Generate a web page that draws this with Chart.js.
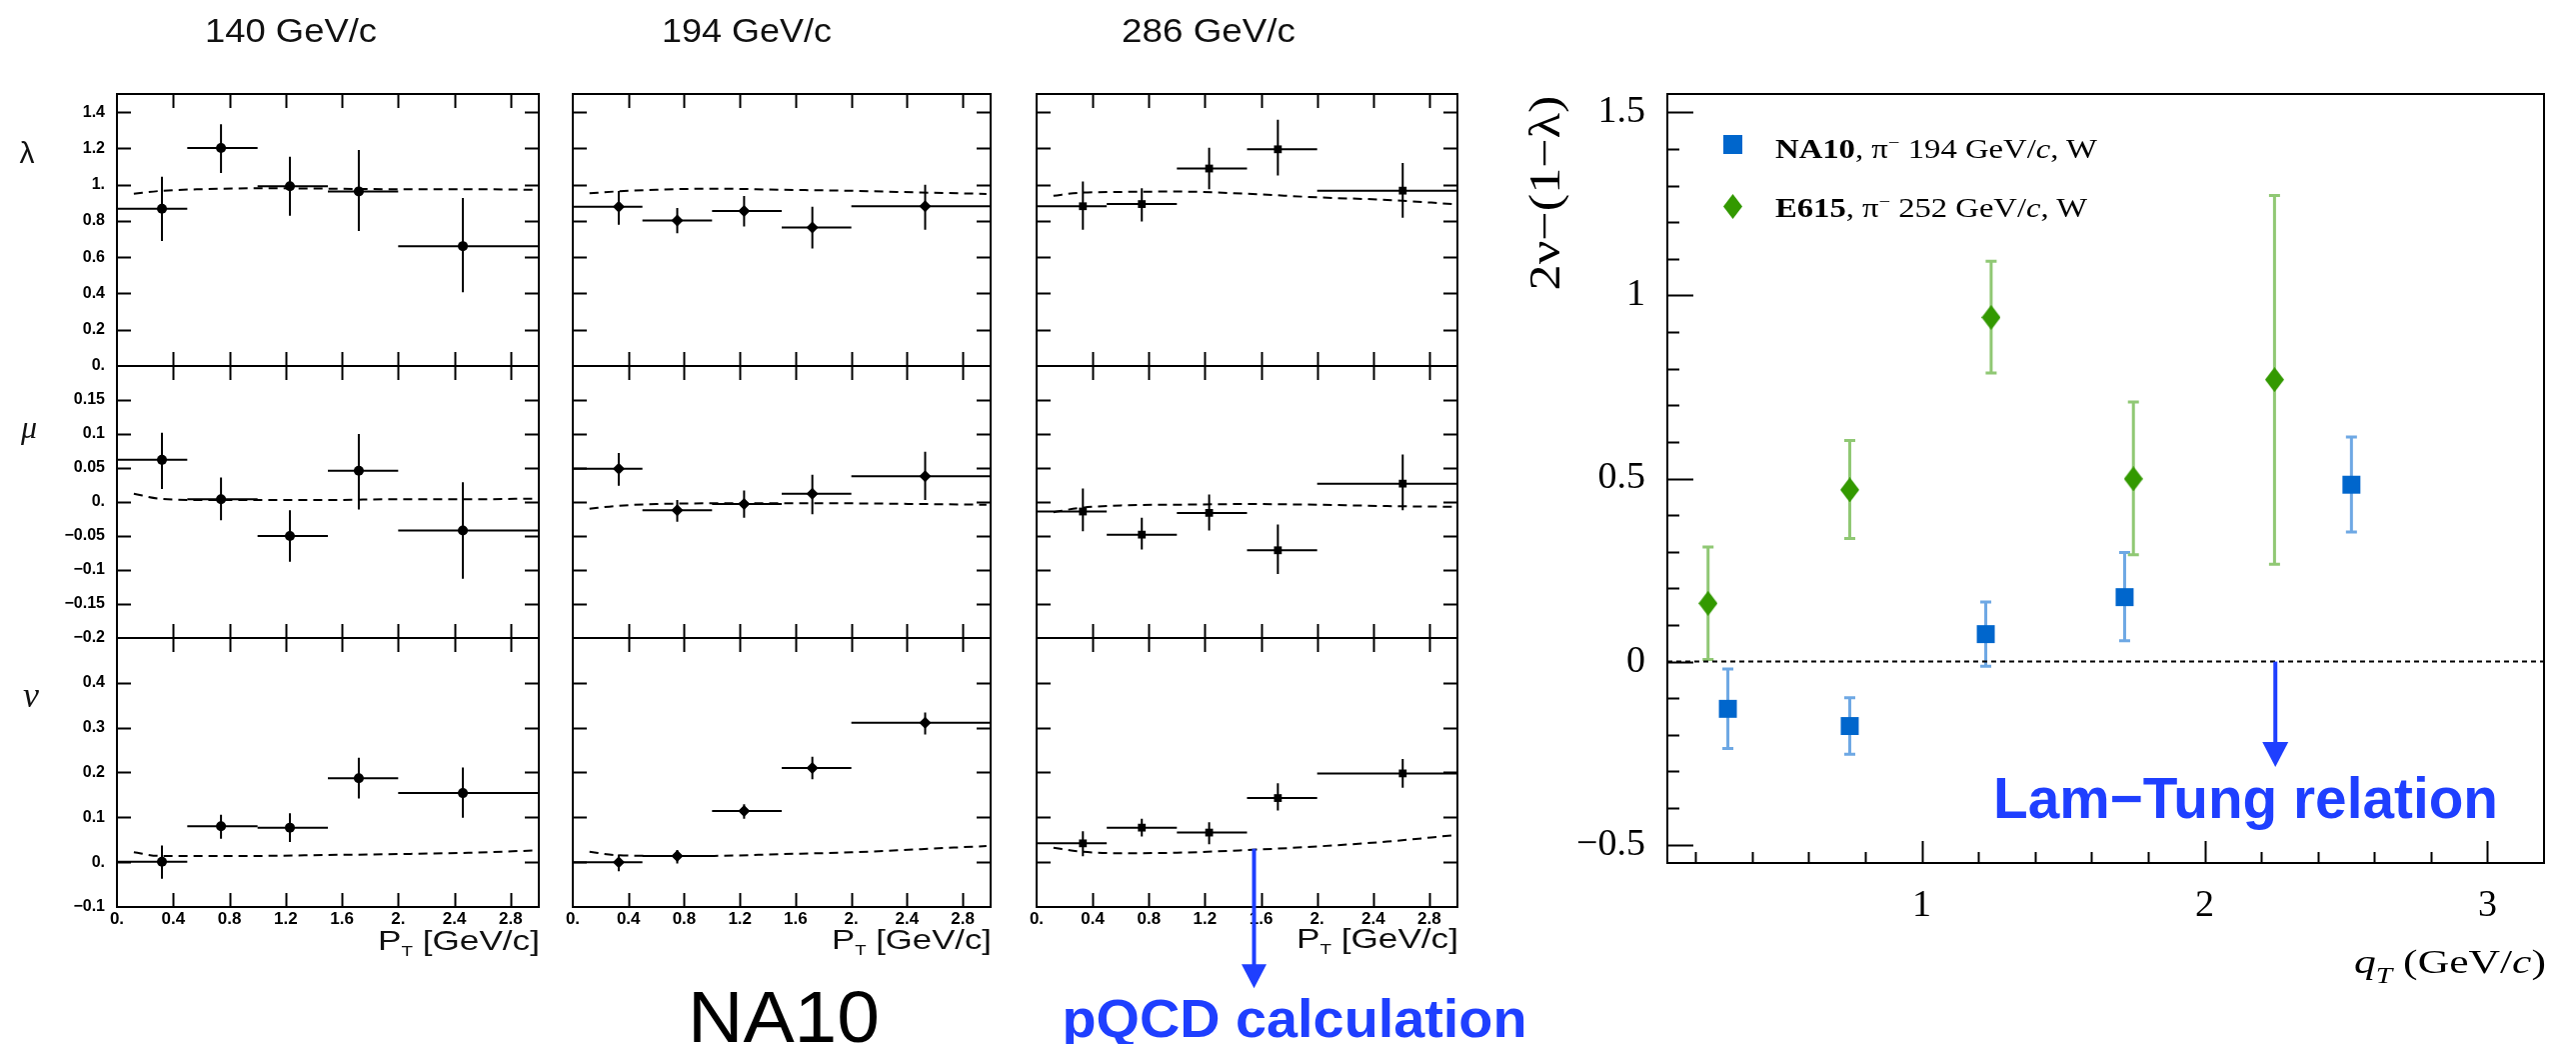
<!DOCTYPE html>
<html><head><meta charset="utf-8">
<script src="https://cdn.jsdelivr.net/npm/chart.js@4.4.1/dist/chart.umd.min.js"></script>
<style>
html,body{margin:0;padding:0;background:#fff;}
#wrap{position:relative;width:2577px;height:1044px;overflow:hidden;background:#fff;}
#wrap canvas{position:absolute;}
#ovl{position:absolute;left:0;top:0;z-index:10;pointer-events:none;white-space:pre;}
</style></head><body>
<div id="wrap">
<svg id="ovl" xmlns="http://www.w3.org/2000/svg" width="2577" height="1044">
 <g font-family="'Liberation Sans', Arial, sans-serif" fill="#111">
  <text x="291" y="42" font-size="33" text-anchor="middle" textLength="172" lengthAdjust="spacingAndGlyphs">140 GeV/c</text>
  <text x="747" y="42" font-size="33" text-anchor="middle" textLength="170" lengthAdjust="spacingAndGlyphs">194 GeV/c</text>
  <text x="1209" y="42" font-size="33" text-anchor="middle" textLength="174" lengthAdjust="spacingAndGlyphs">286 GeV/c</text>
  <text x="27" y="163" font-size="30" text-anchor="middle">λ</text>
  <text x="540" y="950" font-size="28" text-anchor="end" textLength="162" lengthAdjust="spacingAndGlyphs">P<tspan font-size="15" dy="6">T</tspan><tspan dy="-6"> [GeV/c]</tspan></text>
  <text x="992" y="949" font-size="28" text-anchor="end" textLength="160" lengthAdjust="spacingAndGlyphs">P<tspan font-size="15" dy="6">T</tspan><tspan dy="-6"> [GeV/c]</tspan></text>
  <text x="1459" y="948" font-size="28" text-anchor="end" textLength="162" lengthAdjust="spacingAndGlyphs">P<tspan font-size="15" dy="6">T</tspan><tspan dy="-6"> [GeV/c]</tspan></text>
  <text x="784" y="1042" font-size="73" fill="#000" text-anchor="middle" textLength="192" lengthAdjust="spacingAndGlyphs">NA10</text>
  <text x="1295" y="1037" font-size="54" font-weight="bold" fill="#1f3fff" text-anchor="middle" textLength="465" lengthAdjust="spacingAndGlyphs">pQCD calculation</text>
  <text x="1994" y="818" font-size="57" font-weight="bold" fill="#1f3fff" textLength="505" lengthAdjust="spacingAndGlyphs">Lam−Tung relation</text>
 </g>
 <g font-family="'Liberation Serif', 'Times New Roman', serif" fill="#111" font-style="italic">
  <text x="29" y="438" font-size="32" text-anchor="middle">μ</text>
  <text x="31" y="707" font-size="36" text-anchor="middle">ν</text>
 </g>
 <g font-family="'Liberation Serif', 'Times New Roman', serif" fill="#000">
  <rect x="1724" y="135" width="19" height="19" fill="#0066cc"/>
  <polygon points="1733.5,194 1743,206.5 1733.5,219 1724,206.5" fill="#339900"/>
  <text x="1776" y="158" font-size="27" textLength="322" lengthAdjust="spacingAndGlyphs"><tspan font-weight="bold">NA10</tspan>, π<tspan font-size="17" dy="-10">−</tspan><tspan dy="10"> 194 GeV/</tspan><tspan font-style="italic">c</tspan>, W</text>
  <text x="1776" y="217" font-size="27" textLength="312" lengthAdjust="spacingAndGlyphs"><tspan font-weight="bold">E615</tspan>, π<tspan font-size="17" dy="-10">−</tspan><tspan dy="10"> 252 GeV/</tspan><tspan font-style="italic">c</tspan>, W</text>
  <text transform="translate(1545,193) rotate(-90)" font-size="44" text-anchor="middle" dominant-baseline="central" textLength="195" lengthAdjust="spacingAndGlyphs">2ν−(1−λ)</text>
  <text x="2547" y="973" font-size="34" text-anchor="end" textLength="192" lengthAdjust="spacingAndGlyphs"><tspan font-style="italic">q</tspan><tspan font-style="italic" font-size="23" dy="10">T</tspan><tspan dy="-10"> (GeV/</tspan><tspan font-style="italic">c</tspan>)</text>
 </g>
</svg>
</div>
<script>
// ================= DATA =================
// NA10 transverse-momentum bins (GeV/c)
const binLo = [0.0, 0.5, 1.0, 1.5, 2.0];
const binHi = [0.5, 1.0, 1.5, 2.0, 3.0];
// mean P_T of each bin, per beam momentum
const ptMean140 = [0.32, 0.74, 1.23, 1.72, 2.46];
const ptMean194 = [0.33, 0.75, 1.23, 1.72, 2.53];
const ptMean286 = [0.33, 0.75, 1.23, 1.72, 2.61];

// lambda
const lam140 = [0.867, 1.202, 0.991, 0.963, 0.661];
const lam140Lo = [0.689, 1.065, 0.828, 0.744, 0.407];
const lam140Hi = [1.043, 1.333, 1.154, 1.191, 0.926];
const lam194 = [0.878, 0.803, 0.855, 0.764, 0.881];
const lam194Lo = [0.779, 0.732, 0.769, 0.648, 0.751];
const lam194Hi = [0.965, 0.872, 0.937, 0.878, 0.999];
const lam286 = [0.881, 0.893, 1.089, 1.195, 0.967];
const lam286Lo = [0.751, 0.797, 0.975, 1.051, 0.818];
const lam286Hi = [1.018, 0.980, 1.204, 1.358, 1.120];
// mu
const mu140 = [0.062, 0.004, -0.050, 0.046, -0.042];
const mu140Lo = [0.019, -0.027, -0.088, -0.011, -0.113];
const mu140Hi = [0.102, 0.036, -0.012, 0.100, 0.029];
const mu194 = [0.049, -0.012, -0.003, 0.012, 0.038];
const mu194Lo = [0.024, -0.029, -0.023, -0.018, 0.003];
const mu194Hi = [0.072, 0.003, 0.017, 0.040, 0.074];
const mu286 = [-0.014, -0.048, -0.016, -0.071, 0.027];
const mu286Lo = [-0.043, -0.070, -0.042, -0.106, -0.012];
const mu286Hi = [0.020, -0.023, 0.011, -0.033, 0.070];
// nu
const nu140 = [0.001, 0.080, 0.077, 0.187, 0.154];
const nu140Lo = [-0.037, 0.052, 0.045, 0.142, 0.099];
const nu140Hi = [0.037, 0.106, 0.109, 0.233, 0.211];
const nu194 = [0.000, 0.014, 0.114, 0.210, 0.311];
const nu194Lo = [-0.020, -0.003, 0.097, 0.185, 0.285];
const nu194Hi = [0.017, 0.027, 0.129, 0.235, 0.334];
const nu286 = [0.042, 0.077, 0.066, 0.143, 0.198];
const nu286Lo = [0.013, 0.057, 0.040, 0.115, 0.166];
const nu286Hi = [0.069, 0.097, 0.089, 0.176, 0.230];

// pQCD calculation (dashed curves)
const thPt = [0.12, 0.3, 0.6, 1.0, 1.5, 2.0, 2.5, 2.97];
const lamTh140 = [0.950, 0.965, 0.975, 0.980, 0.978, 0.975, 0.975, 0.972];
const lamTh194 = [0.952, 0.962, 0.972, 0.978, 0.972, 0.966, 0.957, 0.949];
const lamTh286 = [0.939, 0.955, 0.960, 0.962, 0.950, 0.930, 0.916, 0.893];
const muTh140 = [0.012, 0.005, 0.003, 0.003, 0.003, 0.004, 0.004, 0.005];
const muTh194 = [-0.010, -0.006, -0.003, -0.002, -0.002, -0.002, -0.003, -0.004];
const muTh286 = [-0.015, -0.009, -0.005, -0.004, -0.003, -0.004, -0.006, -0.007];
const nuTh140 = [0.022, 0.014, 0.014, 0.014, 0.016, 0.018, 0.021, 0.026];
const nuTh194 = [0.023, 0.016, 0.014, 0.014, 0.018, 0.022, 0.029, 0.036];
const nuTh286 = [0.032, 0.024, 0.020, 0.021, 0.027, 0.035, 0.046, 0.060];

// tick values / labels of the NA10 panels
const ptTicks = [0, 0.4, 0.8, 1.2, 1.6, 2.0, 2.4, 2.8];
const ptTickText = ['0.', '0.4', '0.8', '1.2', '1.6', '2.', '2.4', '2.8'];
const ptInner = [0.4, 0.8, 1.2, 1.6, 2.0, 2.4, 2.8];
const lamTicks = [0, 0.2, 0.4, 0.6, 0.8, 1.0, 1.2, 1.4];
const lamTickText = ['0.', '0.2', '0.4', '0.6', '0.8', '1.', '1.2', '1.4'];
const lamInner = [0.2, 0.4, 0.6, 0.8, 1.0, 1.2, 1.4];
const muTicks = [-0.2, -0.15, -0.1, -0.05, 0, 0.05, 0.1, 0.15];
const muTickText = ['−0.2', '−0.15', '−0.1', '−0.05', '0.', '0.05', '0.1', '0.15'];
const muInner = [-0.15, -0.1, -0.05, 0, 0.05, 0.1, 0.15];
const nuTicks = [-0.1, 0, 0.1, 0.2, 0.3, 0.4];
const nuTickText = ['−0.1', '0.', '0.1', '0.2', '0.3', '0.4'];
const nuInner = [0, 0.1, 0.2, 0.3, 0.4];

// Right chart: 2nu-(1-lambda) vs qT
const na10Qt = [0.314, 0.745, 1.226, 1.717, 2.519];
const na10Val = [-0.129, -0.176, 0.075, 0.176, 0.483];
const na10Lo = [-0.237, -0.253, -0.013, 0.057, 0.354];
const na10Hi = [-0.020, -0.099, 0.163, 0.298, 0.613];
const e615Qt = [0.244, 0.745, 1.245, 1.748, 2.247];
const e615Val = [0.159, 0.469, 0.940, 0.499, 0.770];
const e615Lo = [0.006, 0.336, 0.788, 0.292, 0.266];
const e615Hi = [0.313, 0.604, 1.093, 0.709, 1.273];
const lamTungQt = [0.1, 3.2];
const lamTungVal = [0, 0];
const qtMajor = [1, 2, 3];
const qtTickText = ['1', '2', '3'];
const qtMinor = [0.2, 0.4, 0.6, 0.8, 1.2, 1.4, 1.6, 1.8, 2.2, 2.4, 2.6, 2.8];
const ltMajor = [-0.5, 0, 0.5, 1, 1.5];
const ltTickText = ['−0.5', '0', '0.5', '1', '1.5'];
const ltMinor = [-0.4, -0.3, -0.2, -0.1, 0.1, 0.2, 0.3, 0.4, 0.6, 0.7, 0.8, 0.9, 1.1, 1.2, 1.3, 1.4];
// annotation arrows (value coordinates)
const lamTungArrow = {x: 2.25, yFrom: 0, yTo: -0.288};
const pqcdArrow = {x: 1.55, yFrom: 0.03, yTo: -0.281};

// ================= LAYOUT (pixels) =================
const COL_X0 = [117, 573, 1037], COL_X1 = [539, 991, 1458];
const ROW_Y0 = [94, 366, 638], ROW_Y1 = [366, 638, 907];
const ROW_MIN = [0, -0.2, -0.1], ROW_MAX = [1.5, 0.2, 0.5];
const SANS = "'Liberation Sans', Arial, sans-serif";
const SERIF = "'Liberation Serif', 'Times New Roman', serif";
const BLUE_TXT = '#1f3fff';

Chart.defaults.font.family = SANS;

// ================= PLUGINS =================
const framePlugin = {
  id: 'hepFrame',
  afterDraw(chart, args, o) {
    const {ctx, chartArea: a, scales: {x, y}} = chart;
    ctx.save();
    ctx.strokeStyle = '#000';
    ctx.lineWidth = o.lw || 2;
    ctx.strokeRect(a.left, a.top, a.right - a.left, a.bottom - a.top);
    ctx.beginPath();
    const tick = (list, len, both) => {
      (list.x || []).forEach(v => {
        const p = Math.round(x.getPixelForValue(v)) + 0.5;
        ctx.moveTo(p, a.bottom); ctx.lineTo(p, a.bottom - len);
        if (both) { ctx.moveTo(p, a.top); ctx.lineTo(p, a.top + len); }
      });
      (list.y || []).forEach(v => {
        const p = Math.round(y.getPixelForValue(v)) + 0.5;
        ctx.moveTo(a.left, p); ctx.lineTo(a.left + len, p);
        if (both) { ctx.moveTo(a.right, p); ctx.lineTo(a.right - len, p); }
      });
    };
    (o.sets || []).forEach(s => tick(s, s.len, s.both));
    ctx.stroke();
    ctx.restore();
  }
};

const errPlugin = {
  id: 'errBars',
  beforeDatasetsDraw(chart) {
    const {ctx, scales: {x, y}} = chart;
    ctx.save();
    chart.data.datasets.forEach(ds => {
      if (!ds.errLo) return;
      ctx.strokeStyle = ds.errColor;
      ctx.lineWidth = ds.errWidth;
      ds.data.forEach((p, i) => {
        const px = x.getPixelForValue(p.x), py = y.getPixelForValue(p.y);
        const yl = y.getPixelForValue(ds.errLo[i]), yh = y.getPixelForValue(ds.errHi[i]);
        ctx.beginPath();
        ctx.moveTo(px, yl); ctx.lineTo(px, yh);
        if (ds.binLo) {
          ctx.moveTo(x.getPixelForValue(ds.binLo[i]), py);
          ctx.lineTo(x.getPixelForValue(ds.binHi[i]), py);
        }
        if (ds.capW) {
          ctx.moveTo(px - ds.capW / 2, yl); ctx.lineTo(px + ds.capW / 2, yl);
          ctx.moveTo(px - ds.capW / 2, yh); ctx.lineTo(px + ds.capW / 2, yh);
        }
        ctx.stroke();
      });
    });
    ctx.restore();
  }
};

const arrowPlugin = {
  id: 'arrowMark',
  afterDraw(chart, args, o) {
    if (!o || !o.items) return;
    const {ctx, scales: {x, y}} = chart;
    o.items.forEach(a => {
      const px = x.getPixelForValue(a.x);
      const y1 = y.getPixelForValue(a.yFrom), y2 = y.getPixelForValue(a.yTo);
      ctx.save();
      ctx.strokeStyle = a.color; ctx.fillStyle = a.color; ctx.lineWidth = a.lw;
      ctx.beginPath(); ctx.moveTo(px, y1); ctx.lineTo(px, y2 - a.head + 2); ctx.stroke();
      ctx.beginPath();
      ctx.moveTo(px - a.headW / 2, y2 - a.head);
      ctx.lineTo(px + a.headW / 2, y2 - a.head);
      ctx.lineTo(px, y2);
      ctx.closePath(); ctx.fill();
      ctx.restore();
    });
  }
};

const wrap = document.getElementById('wrap');
const ovl = document.getElementById('ovl');
function addCanvas(left, top, w, h) {
  const c = document.createElement('canvas');
  c.width = w; c.height = h;
  c.style.left = left + 'px'; c.style.top = top + 'px';
  c.style.width = w + 'px'; c.style.height = h + 'px';
  wrap.insertBefore(c, ovl);
  return c;
}

// ================= NA10 PANELS =================
const colMeans = [ptMean140, ptMean194, ptMean286];
const rowData = [
  [[lam140, lam140Lo, lam140Hi, lamTh140], [lam194, lam194Lo, lam194Hi, lamTh194], [lam286, lam286Lo, lam286Hi, lamTh286]],
  [[mu140, mu140Lo, mu140Hi, muTh140], [mu194, mu194Lo, mu194Hi, muTh194], [mu286, mu286Lo, mu286Hi, muTh286]],
  [[nu140, nu140Lo, nu140Hi, nuTh140], [nu194, nu194Lo, nu194Hi, nuTh194], [nu286, nu286Lo, nu286Hi, nuTh286]]
];
const rowTicks = [lamTicks, muTicks, nuTicks];
const rowTickText = [lamTickText, muTickText, nuTickText];
const rowInner = [lamInner, muInner, nuInner];
const colStyle = ['circle', 'rectRot', 'rect'];
const colRadius = [5, 6, 5.5];

for (let row = 0; row < 3; row++) {
  for (let col = 0; col < 3; col++) {
    const L = col === 0 ? 110 : 26, R = 24, T = 20;
    const B = row === 2 ? (col === 2 ? 96 : 44) : 20;
    const x0 = COL_X0[col], x1 = COL_X1[col], y0 = ROW_Y0[row], y1 = ROW_Y1[row];
    const cv = addCanvas(x0 - L, y0 - T, (x1 - x0) + L + R, (y1 - y0) + T + B);
    const [vals, lo, hi, th] = rowData[row][col];
    const xs = colMeans[col];
    const arrows = (row === 2 && col === 2) ? {items: [Object.assign({color: BLUE_TXT, lw: 4, head: 24, headW: 25}, pqcdArrow)]} : {};
    new Chart(cv, {
      type: 'scatter',
      data: {
        datasets: [
          {
            type: 'scatter',
            data: xs.map((x, i) => ({x, y: vals[i]})),
            pointStyle: colStyle[col], pointRadius: colRadius[col], pointHoverRadius: colRadius[col],
            backgroundColor: '#000', borderColor: '#000', borderWidth: 0,
            errLo: lo, errHi: hi, binLo: binLo, binHi: binHi, errColor: '#000', errWidth: 2
          },
          {
            type: 'line',
            data: thPt.map((x, i) => ({x, y: th[i]})),
            borderColor: '#000', borderWidth: 2, borderDash: [9, 6],
            pointRadius: 0, fill: false, cubicInterpolationMode: 'monotone'
          }
        ]
      },
      options: {
        responsive: false, animation: false, devicePixelRatio: 1,
        layout: {padding: {top: T, right: R, left: 0, bottom: 0}},
        plugins: {
          legend: {display: false}, tooltip: {enabled: false},
          hepFrame: {lw: 2, sets: [{x: ptInner, y: rowInner[row], len: 14, both: true}]},
          arrowMark: arrows
        },
        scales: {
          x: {
            type: 'linear', min: 0, max: 3,
            grid: {display: false, drawTicks: false}, border: {display: false},
            afterBuildTicks: s => { s.ticks = ptTicks.map(v => ({value: v})); },
            afterFit: s => { s.height = B; s.paddingLeft = 0; s.paddingRight = 0; },
            ticks: {
              display: row === 2, autoSkip: false, maxRotation: 0, padding: 2, color: '#000',
              font: {family: SANS, size: 17, weight: 'bold'},
              callback: (v, i) => ptTickText[i]
            }
          },
          y: {
            type: 'linear', min: ROW_MIN[row], max: ROW_MAX[row],
            grid: {display: false, drawTicks: false}, border: {display: false},
            afterBuildTicks: s => { s.ticks = rowTicks[row].map(v => ({value: v})); },
            afterFit: s => { s.width = L; s.paddingTop = 0; s.paddingBottom = 0; },
            ticks: {
              display: col === 0, autoSkip: false, padding: 12, color: '#000',
              font: {family: SANS, size: 16, weight: 'bold'},
              callback: (v, i) => rowTickText[row][i]
            }
          }
        }
      },
      plugins: [errPlugin, framePlugin, arrowPlugin]
    });
  }
}

// ================= RIGHT CHART =================
function diamondCanvas(w, h, color) {
  const c = document.createElement('canvas');
  c.width = w; c.height = h;
  const g = c.getContext('2d');
  g.fillStyle = color;
  g.beginPath();
  g.moveTo(w / 2, 0); g.lineTo(w, h / 2); g.lineTo(w / 2, h); g.lineTo(0, h / 2);
  g.closePath(); g.fill();
  return c;
}
(function () {
  const left = 1500, top = 60, W = 1077, H = 984;
  const L = 168, T = 34, R = 32, B = H - (863 - top);
  const cv = addCanvas(left, top, W, H);
  new Chart(cv, {
    type: 'scatter',
    data: {
      datasets: [
        {
          type: 'line',
          data: lamTungQt.map((x, i) => ({x, y: lamTungVal[i]})),
          borderColor: '#000', borderWidth: 2, borderDash: [5, 4], pointRadius: 0, fill: false
        },
        {
          label: 'NA10, π⁻ 194 GeV/c, W',
          data: na10Qt.map((x, i) => ({x, y: na10Val[i]})),
          pointStyle: 'rect', pointRadius: 12.7, pointHoverRadius: 12.7,
          backgroundColor: '#0066cc', borderWidth: 0,
          errLo: na10Lo, errHi: na10Hi, errColor: '#6ea8e4', errWidth: 3, capW: 11
        },
        {
          label: 'E615, π⁻ 252 GeV/c, W',
          data: e615Qt.map((x, i) => ({x, y: e615Val[i]})),
          pointStyle: diamondCanvas(19, 25, '#339900'), pointRadius: 12, pointHoverRadius: 12,
          backgroundColor: '#339900', borderWidth: 0,
          errLo: e615Lo, errHi: e615Hi, errColor: '#90c874', errWidth: 3, capW: 11
        }
      ]
    },
    options: {
      responsive: false, animation: false, devicePixelRatio: 1,
      layout: {padding: {top: T, right: R, left: 0, bottom: 0}},
      plugins: {
        legend: {display: false}, tooltip: {enabled: false},
        hepFrame: {lw: 2, sets: [
          {x: qtMajor, len: 22, both: false}, {x: qtMinor, len: 11, both: false},
          {y: ltMajor, len: 26, both: false}, {y: ltMinor, len: 12, both: false}
        ]},
        arrowMark: {items: [Object.assign({color: BLUE_TXT, lw: 4, head: 25, headW: 26}, lamTungArrow)]}
      },
      scales: {
        x: {
          type: 'linear', min: 0.1, max: 3.2,
          grid: {display: false, drawTicks: false}, border: {display: false},
          afterBuildTicks: s => { s.ticks = qtMajor.map(v => ({value: v})); },
          afterFit: s => { s.height = B; s.paddingLeft = 0; s.paddingRight = 0; },
          ticks: {autoSkip: false, maxRotation: 0, padding: 20, color: '#000',
            font: {family: SERIF, size: 38}, callback: (v, i) => qtTickText[i]}
        },
        y: {
          type: 'linear', min: -0.55, max: 1.55,
          grid: {display: false, drawTicks: false}, border: {display: false},
          afterBuildTicks: s => { s.ticks = ltMajor.map(v => ({value: v})); },
          afterFit: s => { s.width = L; s.paddingTop = 0; s.paddingBottom = 0; },
          ticks: {autoSkip: false, padding: 22, color: '#000',
            font: {family: SERIF, size: 38}, callback: (v, i) => ltTickText[i]}
        }
      }
    },
    plugins: [errPlugin, framePlugin, arrowPlugin]
  });
})();
</script>
</body></html>
